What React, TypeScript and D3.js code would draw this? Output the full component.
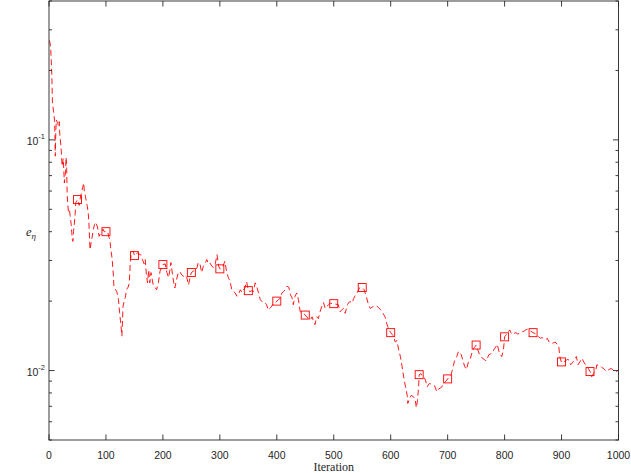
import React from "react";
import * as d3 from "d3";

const iterations = [1,3,5,6,8,10,11,12,13,15,17,18,19,21,23,25,27,29,30,31,32,34,36,37,39,40,41,42,43,44,46,47,50,53,55,57,59,61,62,64,66,67,69,70,72,74,75,78,80,82,85,88,90,92,95,97,100,103,105,107,108,111,113,114,116,119,122,124,126,128,130,132,134,136,139,141,143,145,148,150,153,155,158,161,164,167,169,171,173,175,177,179,181,183,186,189,192,195,198,200,204,207,210,212,214,217,219,221,224,227,230,233,236,239,242,245,248,250,254,257,260,262,265,268,271,274,277,280,283,286,289,292,295,298,300,303,305,307,309,312,315,318,321,324,327,330,333,336,339,342,344,347,350,353,356,359,362,365,368,371,374,377,380,382,385,388,391,395,398,400,403,406,409,412,415,418,421,424,427,429,432,435,438,441,445,448,450,453,456,459,462,465,467,470,473,476,479,482,485,488,491,494,497,500,504,508,511,514,517,520,524,527,529,532,535,537,541,545,548,550,553,557,561,564,567,570,573,576,579,582,586,590,593,596,600,603,605,608,611,614,617,620,623,626,629,630,633,636,640,643,645,647,649,650,653,655,658,661,664,668,672,677,681,684,687,690,693,697,700,703,706,708,710,712,716,719,722,724,727,730,733,736,740,744,747,750,752,755,758,761,764,767,770,772,775,778,781,784,787,789,791,795,798,800,803,805,809,811,814,817,820,823,826,830,834,837,840,843,846,850,853,856,860,863,866,869,872,875,878,881,883,886,889,892,895,897,900,903,907,910,913,916,919,922,926,929,932,936,939,942,945,948,950,953,956,960,962,965,968,971,974,977,979,983,987,990,992,995,997,1000];

const errorValues = [0.27,0.25,0.19,0.146,0.133,0.12,0.085,0.11,0.122,0.118,0.115,0.12,0.105,0.094,0.077,0.083,0.065,0.073,0.084,0.075,0.057,0.049,0.05,0.047,0.043,0.0396,0.037,0.0363,0.04,0.042,0.048,0.0535,0.0551,0.052,0.056,0.059,0.062,0.065,0.06,0.057,0.053,0.052,0.048,0.044,0.0334,0.036,0.037,0.041,0.043,0.044,0.042,0.0382,0.039,0.0396,0.041,0.04,0.04,0.04,0.038,0.037,0.0345,0.0303,0.026,0.0231,0.0226,0.022,0.0203,0.0178,0.016,0.0141,0.019,0.02,0.0207,0.0224,0.023,0.024,0.0303,0.0324,0.033,0.0315,0.032,0.0324,0.032,0.0318,0.0303,0.029,0.0303,0.026,0.024,0.0273,0.024,0.0266,0.025,0.0235,0.023,0.0224,0.024,0.027,0.028,0.0288,0.029,0.0266,0.0253,0.027,0.0294,0.026,0.024,0.0228,0.0248,0.0266,0.0268,0.026,0.0256,0.026,0.0253,0.0235,0.0256,0.0266,0.027,0.027,0.028,0.0294,0.029,0.0266,0.0283,0.029,0.0303,0.029,0.0292,0.0283,0.028,0.029,0.0318,0.0283,0.0276,0.0278,0.028,0.029,0.0298,0.0266,0.0253,0.0243,0.0224,0.022,0.0217,0.021,0.0215,0.0224,0.0218,0.0225,0.0228,0.0243,0.0222,0.022,0.0222,0.022,0.024,0.023,0.0217,0.0203,0.0199,0.0199,0.0196,0.0193,0.0183,0.0186,0.019,0.0197,0.0198,0.02,0.0203,0.0206,0.0217,0.022,0.0225,0.0232,0.023,0.0213,0.0206,0.0193,0.021,0.0217,0.0203,0.018,0.0178,0.0176,0.0174,0.017,0.0168,0.0166,0.0171,0.0162,0.0158,0.0171,0.0168,0.018,0.019,0.0197,0.0186,0.019,0.0193,0.0196,0.0195,0.0195,0.0194,0.0193,0.018,0.0183,0.0186,0.0177,0.0193,0.0198,0.0199,0.0196,0.0205,0.021,0.0217,0.0228,0.0229,0.0229,0.0225,0.021,0.0193,0.0186,0.0188,0.019,0.0191,0.019,0.0187,0.0184,0.0178,0.0171,0.016,0.0152,0.0146,0.0143,0.0141,0.0133,0.0135,0.0123,0.0115,0.0104,0.0093,0.0085,0.0078,0.0072,0.0076,0.0078,0.0077,0.0075,0.0069,0.0074,0.0085,0.0096,0.0097,0.0095,0.0094,0.0091,0.0085,0.0088,0.0087,0.0086,0.0081,0.0083,0.0084,0.0085,0.0088,0.009,0.0092,0.0094,0.0096,0.01,0.0105,0.011,0.0115,0.0121,0.0119,0.0117,0.011,0.0104,0.0101,0.0108,0.0113,0.0123,0.0126,0.0129,0.0125,0.0119,0.0116,0.0113,0.0112,0.011,0.0113,0.0117,0.0118,0.0119,0.0123,0.0126,0.013,0.0124,0.0119,0.0115,0.0123,0.014,0.0143,0.0145,0.015,0.0146,0.0143,0.0145,0.0146,0.0144,0.0145,0.0147,0.0148,0.015,0.0151,0.015,0.0148,0.0146,0.0145,0.0142,0.014,0.0138,0.0139,0.0137,0.0136,0.0138,0.0133,0.0132,0.0131,0.0132,0.0133,0.013,0.0128,0.0115,0.0108,0.0109,0.011,0.0112,0.0111,0.0106,0.0108,0.0111,0.0115,0.0106,0.0109,0.0113,0.0109,0.0106,0.0104,0.0101,0.0099,0.0094,0.0097,0.01,0.0106,0.0105,0.0105,0.0103,0.0102,0.01,0.0099,0.0101,0.0102,0.0101,0.01,0.0099,0.0099,0.0101];

const markerIterations = [50,100,150,200,250,300,350,400,450,500,550,600,650,700,750,800,850,900,950];
const markerValues = [0.0551,0.04,0.0315,0.0288,0.0266,0.0276,0.0222,0.02,0.0174,0.0195,0.0229,0.0146,0.0096,0.0092,0.0129,0.014,0.0146,0.0109,0.0099];

const xTickValues = [0,100,200,300,400,500,600,700,800,900,1000];
const yMajorTicks = [0.01, 0.1];
const yMajorLabels = ["-2", "-1"];

const W = 631, H = 473;
const L = 49, R = 618.5, T = 1, B = 440;
const AX = "#262626";

export default function App() {
  const x = d3.scaleLinear().domain([0, 1000]).range([L, R]);
  const y = d3.scaleLog().domain([0.005, 0.4]).range([B, T]);
  const pts = iterations.map((it, i) => [it, errorValues[i]] as [number, number]);
  const line = d3.line<[number, number]>().x(d => x(d[0])).y(d => y(d[1]));
  const minorTicks = y.ticks().filter(v => !yMajorTicks.some(m => Math.abs(m - v) < 1e-9));
  const ms = 8;
  return (
    <svg width={W} height={H} style={{ position: "absolute", left: 0, top: 0, background: "#fff" }}
      fontFamily="'Liberation Sans', Arial, sans-serif">
      <rect x={0} y={0} width={W} height={H} fill="#fff" />
      <path d={line(pts) || ""} fill="none" stroke="#ff0000" strokeWidth={0.9} strokeDasharray="6,3.5" />
      {markerIterations.map((it, i) => (
        <rect key={i} x={x(it) - ms / 2} y={y(markerValues[i]) - ms / 2} width={ms} height={ms}
          fill="none" stroke="#ff0000" strokeWidth={0.9} />
      ))}
      <rect x={L} y={T} width={R - L} height={B - T} fill="none" stroke={AX} strokeWidth={0.9} />
      {xTickValues.map(v => (
        <g key={v}>
          <line x1={x(v)} x2={x(v)} y1={B} y2={B - 5.5} stroke={AX} strokeWidth={0.9} />
          <line x1={x(v)} x2={x(v)} y1={T} y2={T + 5.5} stroke={AX} strokeWidth={0.9} />
          <text x={x(v)} y={459} textAnchor="middle" fontSize={10.5} fill={AX}>{v}</text>
        </g>
      ))}
      {yMajorTicks.map((v, i) => (
        <g key={v}>
          <line x1={L} x2={L + 5.5} y1={y(v)} y2={y(v)} stroke={AX} strokeWidth={0.9} />
          <line x1={R} x2={R - 5.5} y1={y(v)} y2={y(v)} stroke={AX} strokeWidth={0.9} />
          <text x={45} y={y(v) + 5} textAnchor="end" fontSize={10.5} fill={AX}>
            10<tspan dy={-6} fontSize={7.5}>{yMajorLabels[i]}</tspan>
          </text>
        </g>
      ))}
      {minorTicks.map(v => (
        <g key={"m" + v}>
          <line x1={L} x2={L + 3} y1={y(v)} y2={y(v)} stroke={AX} strokeWidth={0.9} />
          <line x1={R} x2={R - 3} y1={y(v)} y2={y(v)} stroke={AX} strokeWidth={0.9} />
        </g>
      ))}
      <text x={(L + R) / 2} y={471} textAnchor="middle" fontSize={12} fill={AX}
        fontFamily="'Liberation Serif', 'Times New Roman', serif">Iteration</text>
      <text x={26} y={236} fontSize={12.5} fill={AX} fontFamily="'Liberation Serif', 'Times New Roman', serif"
        fontStyle="italic">e<tspan dy={3} fontSize={9}>η</tspan></text>
    </svg>
  );
}
